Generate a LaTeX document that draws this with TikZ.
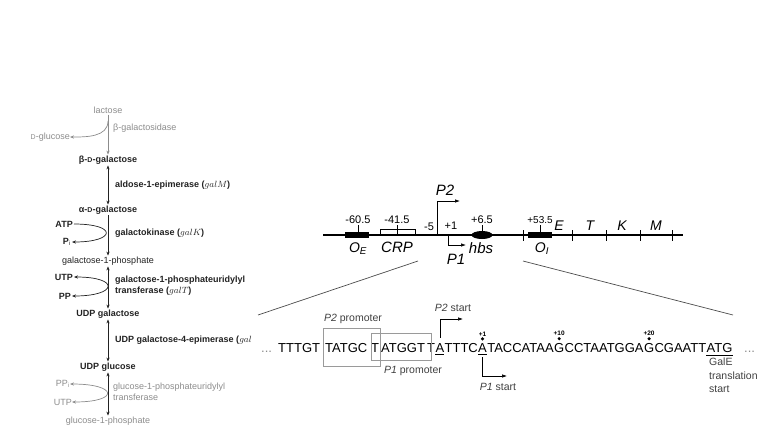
\documentclass[tikz,border=0pt]{standalone}
\usepackage{fontspec}
\setmainfont{Liberation Sans}
\usetikzlibrary{arrows.meta,shapes.geometric}

\definecolor{faded}{HTML}{8C8C8C}
\definecolor{ink}{HTML}{222222}
\definecolor{boxgray}{HTML}{9A9A9A}

\tikzset{
  metab/.style={font=\fontsize{9}{11}\selectfont\bfseries, text=ink, inner sep=1pt},
  plain/.style={font=\fontsize{9}{11}\selectfont},
  enz/.style={font=\fontsize{9}{11}\selectfont\bfseries, text=ink, anchor=west, inner sep=0pt, align=left},
  faint/.style={text=faded, font=\fontsize{9}{10.5}\selectfont},
  side/.style={anchor=east, inner sep=0pt},
  rxn/.style={-{Stealth[length=4pt,width=3.2pt]}, line width=0.7pt, draw=ink},
  rev/.style={{Stealth[length=4pt,width=3.2pt]}-{Stealth[length=4pt,width=3.2pt]}, line width=0.7pt, draw=ink},
  dna/.style={line width=2.2pt},
  opbox/.style={fill=black, minimum width=24pt, minimum height=6pt, inner sep=0pt},
  tickln/.style={line width=0.6pt},
  mapval/.style={font=\fontsize{11}{12}\selectfont, inner sep=1pt},
  gene/.style={font=\fontsize{14}{15}\selectfont\itshape, inner sep=1pt},
  prom/.style={-{Latex[length=5pt,width=3.5pt]}, line width=0.7pt},
  zoomln/.style={line width=0.7pt, draw=black!70},
  seq/.style={font=\fontsize{13}{14}\selectfont, anchor=base west, inner sep=0pt},
  lbl/.style={font=\fontsize{10.5}{13.5}\selectfont, text=black!75, inner sep=0pt},
  promobox/.style={draw=boxgray, line width=0.6pt},
  startarr/.style={-{Latex[length=5pt,width=3.5pt]}, line width=0.6pt},
  posn/.style={font=\fontsize{6.5}{6.5}\selectfont\bfseries, inner sep=0pt}
}

\begin{document}
\begin{tikzpicture}[x=1pt, y=-1pt]
  \useasboundingbox (0,0) rectangle (768,432);

  % galactose pathway
  \node[metab, faint] (lac) at (108,110) {lactose};
  \node[metab] (bgal) at (108,160) {β-{\scriptsize D}-galactose};
  \node[metab] (agal) at (108,210) {α-{\scriptsize D}-galactose};
  \node[metab, plain] (g1p) at (108,261) {galactose-1-phosphate};
  \node[metab] (udpgal) at (108,314) {UDP galactose};
  \node[metab] (udpglc) at (108,367) {UDP glucose};
  \node[metab, faint] (glc1p) at (108,421) {glucose-1-phosphate};

  \node[enz, faint] (bgase) at (113,128) {β-galactosidase};
  \node[enz] (galm) at (115,185) {aldose-1-epimerase ($galM$)};
  \node[enz] (galk) at (115,233) {galactokinase ($galK$)};
  \node[enz] (galt) at (115,286) {galactose-1-phosphateuridylyl\\transferase ($galT$)};
  \node[enz] (gale) at (115,340) {UDP galactose-4-epimerase ($gal$};
  \node[enz, faint] (galu) at (113,392) {glucose-1-phosphateuridylyl\\transferase};

  \node[side, faint] (dglc) at (70,137) {{\scriptsize D}-glucose};
  \node[side, metab] (atp) at (74,224) {ATP};
  \node[side, metab] (pi) at (72,242) {P$_\mathrm{i}$};
  \node[side, metab] (utp) at (74,277) {UTP};
  \node[side, metab] (pp) at (72,296) {PP};
  \node[side, faint] (ppi) at (70,384) {PP$_\mathrm{i}$};
  \node[side, faint] (utp2) at (72,402) {UTP};

  \coordinate (lacfork) at (108,121);
  \draw[rxn, draw=faded] (lac) -- (bgal);
  \draw[rxn, draw=faded] (lacfork) to[out=-90, in=0] (dglc.east);
  \draw[rev] (bgal) -- (agal);
  \draw[rxn] (agal) -- (g1p);
  \draw[rxn] (atp.east) .. controls +(44,0) and +(44,0) .. (pi.east);
  \draw[rev] (g1p) -- (udpgal);
  \draw[rev] (utp.east) .. controls +(46,0) and +(46,0) .. (pp.east);
  \draw[rev] (udpgal) -- (udpglc);
  \draw[rev] (udpglc) -- (glc1p);
  \draw[rev, draw=faded] (ppi.east) .. controls +(48,0) and +(48,0) .. (utp2.east);

  % gal operon map
  \draw[dna] (323,235) coordinate (mapL) -- (683,235) coordinate (mapR);
  \node[opbox] (oe) at (357,235) {};
  \node[opbox] (oi) at (540,235) {};
  \node[ellipse, fill=black, minimum width=21pt, minimum height=8pt, inner sep=0pt] (hbs) at (482,235) {};
  \draw[tickln] (380,235) |- (415,229) -- (415,235);
  \foreach \x/\v in {358/-60.5, 397/-41.5, 482/+6.5}
    \draw[tickln] (\x,235) -- (\x,225) node[mapval, above, name=val\x] {\v};
  \draw[tickln] (540,235) -- (540,225) node[mapval, above, font=\fontsize{10}{11}\selectfont, name=val540] {+53.5};
  \foreach \x in {523,572,606,640,672}
    \draw[tickln] (\x,230) -- (\x,241);

  \node[gene] (oelab) at (358,249) {O$_{\mathit{E}}$};
  \node[gene, font=\fontsize{15}{16}\selectfont\itshape] (crp) at (397,247) {CRP};
  \node[gene, font=\fontsize{15}{16}\selectfont\itshape] (hbslab) at (481,248) {hbs};
  \node[gene] (oilab) at (542,249) {O$_{\mathit{I}}$};
  \node[gene] (gE) at (559,226) {E};
  \node[gene] (gT) at (590,226) {T};
  \node[gene] (gK) at (622,226) {K};
  \node[gene] (gM) at (656,226) {M};

  \coordinate (p2tip) at (460,201);
  \coordinate (p1tip) at (466,245);
  \draw[prom] (437,235) |- (p2tip);
  \draw[prom] (448,235) |- (p1tip);
  \node[gene, font=\fontsize{15}{16}\selectfont\itshape] (p2) at (445,190) {P2};
  \node[gene, font=\fontsize{15}{16}\selectfont\itshape] (p1) at (456,259) {P1};
  \node[mapval] (m5) at (429,227) {-5};
  \node[mapval] (p1pos) at (451,226) {+1};

  \coordinate (zl1) at (418,261);
  \coordinate (zl2) at (258,315);
  \coordinate (zr1) at (523,261);
  \coordinate (zr2) at (733,315);
  \draw[zoomln] (zl1) -- (zl2);
  \draw[zoomln] (zr1) -- (zr2);

  % promoter sequence
  \node[seq, text=faded] (ldots) at (261,352) {...};
  \node[seq] (g1) at (278,352) {TTTGT};
  \node[seq] (g2) at (325,352) {TATGC};
  \node[seq] (g3) at (371,352) {T};
  \node[seq] (g4) at (381,352) {ATGGT};
  \node[seq] (s1) at (427,352) {T};
  \node[seq] (s2) at (s1.base east) {A};
  \node[seq] (s3) at (s2.base east) {TTTC};
  \node[seq] (s4) at (s3.base east) {A};
  \node[seq] (s5) at (s4.base east) {TACCATAA};
  \node[seq] (s6) at (s5.base east) {G};
  \node[seq] (s7) at (s6.base east) {CCTAATGGA};
  \node[seq] (s8) at (s7.base east) {G};
  \node[seq] (s9) at (s8.base east) {CGAATT};
  \node[seq] (s10) at (s9.base east) {ATG};
  \node[seq, text=faded] (rdots) at (744,352) {...};

  \draw[promobox] (323,328) rectangle (380,366);
  \draw[promobox] (371,333) rectangle (431,360);
  \node[lbl] (p2prom) at (353,319) {\textit{P2} promoter};
  \node[lbl] (p1prom) at (413,371) {\textit{P1} promoter};

  \foreach \n in {s2,s4,s10}
    \draw[line width=0.6pt] ([yshift=-2.5pt]\n.south west) -- ([yshift=-2.5pt]\n.south east);

  \coordinate (p2s) at (463,319);
  \coordinate (p1s) at (507,376);
  \draw[startarr] ([yshift=5pt]s2.north) |- (p2s);
  \draw[startarr] ([yshift=-5pt]s4.south) |- (p1s);
  \node[lbl] (p2st) at (453,308) {\textit{P2} start};
  \node[lbl] (p1st) at (498,387) {\textit{P1} start};

  \foreach \n/\t in {s4/+1, s6/+10, s8/+20} {
    \fill ([yshift=4pt]\n.north) circle (1.7pt);
    \node[posn, name=pos\n] at ([yshift=9pt]\n.north) {\t};
  }

  \node[lbl, anchor=north west, align=left] (galestart) at (709,358) {GalE\\translation\\start};
\end{tikzpicture}
\end{document}
